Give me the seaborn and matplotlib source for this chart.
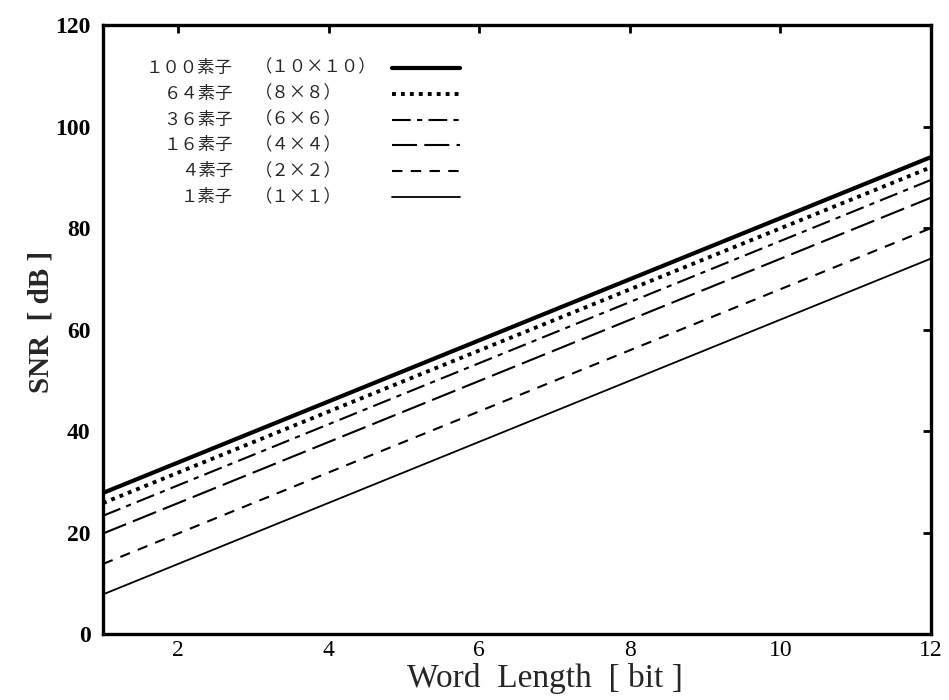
import matplotlib
matplotlib.use("Agg")
import matplotlib.pyplot as plt
import seaborn as sns
import pandas as pd

sns.set_theme(style="white")
plt.rcParams['font.family'] = ['Liberation Serif', 'DejaVu Serif']

# Word length (bit) at the two ends of each line
word_length = [1, 12]

# SNR [dB] for each array size
snr_100 = [27.8, 94.0]
snr_64 = [25.8, 92.0]
snr_36 = [23.3, 89.5]
snr_16 = [19.8, 86.0]
snr_4 = [13.8, 80.0]
snr_1 = [7.8, 74.0]

count_labels = ["１００素子", "６４素子", "３６素子", "１６素子", "４素子", "１素子"]
grid_labels = ["（１０×１０）", "（８×８）", "（６×６）", "（４×４）", "（２×２）", "（１×１）"]
series = [snr_100, snr_64, snr_36, snr_16, snr_4, snr_1]

styles = [
    dict(linestyle="-", linewidth=3.0),
    dict(linestyle=(0, (1, 1.3)), linewidth=2.8),
    dict(linestyle=(0, (9, 3, 2.5, 3)), linewidth=1.5),
    dict(linestyle=(0, (12, 3.5)), linewidth=1.5),
    dict(linestyle=(0, (5, 4)), linewidth=1.5),
    dict(linestyle="-", linewidth=1.3),
]

frames = []
for lab, vals in zip(count_labels, series):
    frames.append(pd.DataFrame({"bits": word_length, "snr": vals, "array": lab}))
df = pd.concat(frames, ignore_index=True)

fig = plt.figure(figsize=(9.49, 7.0), dpi=100)
ax = fig.add_axes([0.1085, 0.0943, 0.8725, 0.8697])

for lab, st in zip(count_labels, styles):
    sub = df[df["array"] == lab]
    sns.lineplot(data=sub, x="bits", y="snr", ax=ax, color="black",
                 linestyle=st["linestyle"], linewidth=st["linewidth"],
                 legend=False)

ax.set_xlim(1, 12)
ax.set_ylim(0, 120)
ax.set_xticks([2, 4, 6, 8, 10, 12])
ax.set_yticks([0, 20, 40, 60, 80, 100, 120])
ax.tick_params(direction="in", length=6, width=2, top=True, right=True,
               colors="black")
ax.tick_params(axis="y", pad=9)
ax.tick_params(axis="x", pad=4)
for lbl in ax.get_yticklabels():
    lbl.set_fontweight("bold")
    lbl.set_fontsize(17)
for lbl in ax.get_xticklabels():
    lbl.set_fontsize(17)
for sp in ax.spines.values():
    sp.set_visible(True)
    sp.set_color("black")
    sp.set_linewidth(2.4)

ax.set_xlabel("Word  Length  [ bit ]", fontsize=24)
ax.set_ylabel("SNR  [ dB ]", fontsize=21, fontweight="bold")
ax.xaxis.set_label_coords(0.534, -0.047, transform=ax.transAxes)
ax.yaxis.set_label_coords(-0.058, 0.512, transform=ax.transAxes)

# Key block in the upper-left corner
jp = ['Noto Sans CJK JP', 'DejaVu Sans']
row0 = 0.930
step = 0.0425
for i, (c, g, st) in enumerate(zip(count_labels, grid_labels, styles)):
    y = row0 - i * step
    ax.text(0.157, y, c, transform=ax.transAxes, ha="right", va="center",
            fontsize=12.5, family=jp)
    ax.text(0.183, y, g, transform=ax.transAxes, ha="left", va="center",
            fontsize=12.5, family=jp)
    ax.plot([0.349, 0.431], [y, y], transform=ax.transAxes, color="black",
            linestyle=st["linestyle"], linewidth=st["linewidth"])

fig.savefig("out.png", dpi=100)
